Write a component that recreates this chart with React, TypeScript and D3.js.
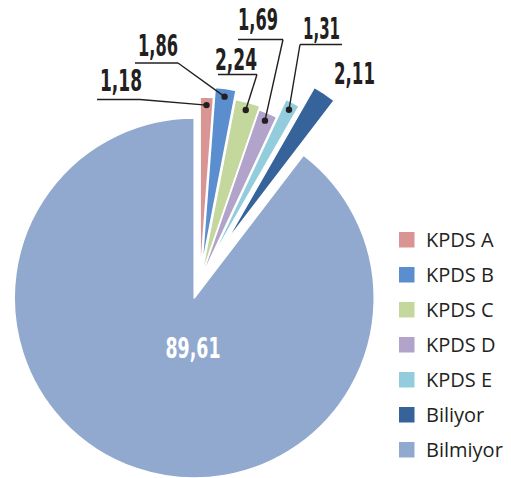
import React from "react";
import * as d3 from "d3";

const categories = ["KPDS A", "KPDS B", "KPDS C", "KPDS D", "KPDS E", "Biliyor", "Bilmiyor"];
const values = [1.18, 1.86, 2.24, 1.69, 1.31, 2.11, 89.61];
const valueLabels = ["1,18", "1,86", "2,24", "1,69", "1,31", "2,11", "89,61"];
const colors = ["#d99594", "#5a8ecf", "#c4d79c", "#b1a3c9", "#93cddd", "#35639a", "#92a9cf"];

// style: explosion distance per slice (px)
const explode = [4, 14, 5, 1, 21, 45, 18];

// label layout: text start x, baseline, underline y, underline x0/x1, which end connects
type Lab = { tx: number; ty: number; w: number; uy?: number; ux0?: number; ux1?: number; end?: "l" | "r" };
const labelLayout: Lab[] = [
  { tx: 100, ty: 91, w: 42, uy: 99.5, ux0: 97, ux1: 140, end: "r" },
  { tx: 138, ty: 56, w: 40, uy: 63, ux0: 135, ux1: 178, end: "r" },
  { tx: 215, ty: 70, w: 42, uy: 74.5, ux0: 218, ux1: 257, end: "r" },
  { tx: 238, ty: 30, w: 40, uy: 39.5, ux0: 238, ux1: 283, end: "r" },
  { tx: 303, ty: 38.5, w: 37, uy: 44.5, ux0: 300, ux1: 342, end: "l" },
  { tx: 334, ty: 83.5, w: 41 },
];

export default function App() {
  const W = 511, H = 478;
  const cx = 200, cy = 281, R = 180;
  const pie = d3.pie<number>().sort(null).value((d) => d).startAngle(0).endAngle(2 * Math.PI);
  const arcs = pie(values);
  const arc = d3.arc<d3.PieArcDatum<number>>().innerRadius(0).outerRadius(R);
  const dotArc = d3.arc<d3.PieArcDatum<number>>().innerRadius(172).outerRadius(172);

  const off = (a: d3.PieArcDatum<number>, i: number) => {
    const m = (a.startAngle + a.endAngle) / 2;
    return [explode[i] * Math.sin(m), -explode[i] * Math.cos(m)];
  };

  const numFont = {
    fontFamily: "'DejaVu Sans', sans-serif",
    fontStretch: "condensed" as const,
    fontWeight: 700,
    fontSize: 30,
  };

  return (
    <svg width={W} height={H} style={{ position: "absolute", left: 0, top: 0 }}>
      <rect width={W} height={H} fill="#fff" />
      <g transform={`translate(${cx},${cy})`}>
        {arcs.map((a, i) => {
          const [dx, dy] = off(a, i);
          return (
            <path
              key={i}
              d={arc(a) || ""}
              transform={`translate(${dx},${dy})`}
              fill={colors[i]}
              stroke="#fff"
              strokeWidth={1.5}
              strokeLinejoin="round"
            />
          );
        })}
      </g>
      {labelLayout.map((l, i) => {
        const a = arcs[i];
        const [dx, dy] = off(a, i);
        const c = dotArc.centroid(a);
        const px = cx + dx + c[0];
        const py = cy + dy + c[1];
        const hasLine = l.uy !== undefined;
        const ex = l.end === "l" ? l.ux0! : l.ux1!;
        return (
          <g key={i}>
            {hasLine && (
              <>
                <polyline
                  points={`${l.ux0},${l.uy} ${l.ux1},${l.uy}`}
                  fill="none"
                  stroke="#231f20"
                  strokeWidth={1.4}
                />
                <line x1={ex} y1={l.uy} x2={px} y2={py} stroke="#231f20" strokeWidth={1.4} />
                <circle cx={px} cy={py} r={3.2} fill="#231f20" />
              </>
            )}
            <text
              x={l.tx}
              y={l.ty}
              {...numFont}
              fill="#231f20"
              textLength={l.w}
              lengthAdjust="spacingAndGlyphs"
            >
              {valueLabels[i]}
            </text>
          </g>
        );
      })}
      <text
        x={193 - 27.5}
        y={358}
        {...numFont}
        fontSize={28}
        fill="#fff"
        textLength={55}
        lengthAdjust="spacingAndGlyphs"
      >
        {valueLabels[6]}
      </text>
      {categories.map((c, i) => (
        <g key={c} transform={`translate(399,${232 + i * 35})`}>
          <rect width={15.5} height={15.5} fill={colors[i]} />
          <text x={27} y={15} fontFamily="'Open Sans', sans-serif" fontSize={20} fill="#231f20">
            {c}
          </text>
        </g>
      ))}
    </svg>
  );
}
